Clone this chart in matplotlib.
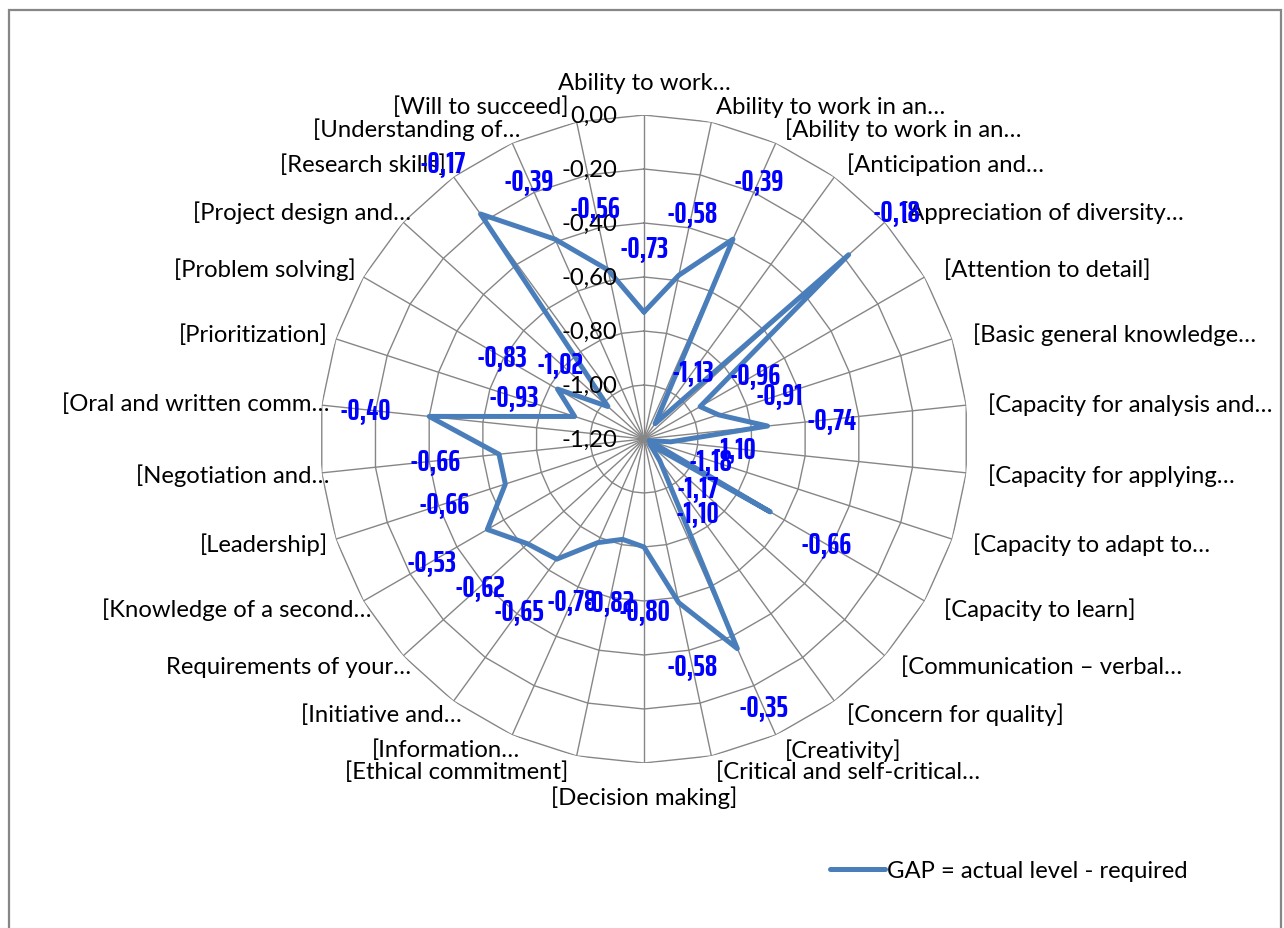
import numpy as np
import matplotlib
matplotlib.use("Agg")
import matplotlib.pyplot as plt
from matplotlib.patches import Rectangle

categories = [
    "Ability to work…",
    "Ability to work in an…",
    "[Ability to work in an…",
    "[Anticipation and…",
    "[Appreciation of diversity…",
    "[Attention to detail]",
    "[Basic general knowledge…",
    "[Capacity for analysis and…",
    "[Capacity for applying…",
    "[Capacity to adapt to…",
    "[Capacity to learn]",
    "[Communication – verbal…",
    "[Concern for quality]",
    "[Creativity]",
    "[Critical and self-critical…",
    "[Decision making]",
    "[Ethical commitment]",
    "[Information…",
    "[Initiative and…",
    "Requirements of your…",
    "[Knowledge of a second…",
    "[Leadership]",
    "[Negotiation and…",
    "[Oral and written comm…",
    "[Prioritization]",
    "[Problem solving]",
    "[Project design and…",
    "[Research skills]",
    "[Understanding of…",
    "[Will to succeed]",
]
gap_values = [-0.73, -0.58, -0.39, -1.13, -0.18, -0.96, -0.91, -0.74, -1.10, -1.18,
              -0.66, -1.17, -1.10, -0.35, -0.58, -0.80, -0.82, -0.78, -0.65, -0.62,
              -0.53, -0.66, -0.66, -0.40, -0.93, -0.83, -1.02, -0.17, -0.39, -0.56]
radial_ticks = [-1.20, -1.00, -0.80, -0.60, -0.40, -0.20, 0.00]
series_name = "GAP = actual level - required"

plt.rcParams['font.family'] = ['Lato', 'DejaVu Sans']
TEXT_SIZE = 17.2
VALUE_SIZE = 22
VALUE_FONT = ['Saira ExtraCondensed', 'Saira Extra Condensed', 'DejaVu Sans']

W, H = 1284, 929
cx, cy, R = 644, 440, 324
fig = plt.figure(figsize=(W / 100, H / 100), dpi=100)
fig.patch.set_facecolor('white')

# outer chart border
fig.add_artist(Rectangle((9 / W, -0.05), (1281 - 9) / W, (H - 11) / H + 0.05,
                         transform=fig.transFigure, fill=False,
                         edgecolor='#868686', linewidth=1.6))

ax = fig.add_axes([(cx - R) / W, (H - cy - R) / H, 2 * R / W, 2 * R / H],
                  projection='polar')
ax.set_theta_offset(np.pi / 2)
ax.set_theta_direction(-1)
ax.set_ylim(radial_ticks[0], radial_ticks[-1])
ax.grid(False)
ax.spines['polar'].set_visible(False)
ax.set_xticks([])
ax.set_yticks([])
ax.patch.set_alpha(0)

n = len(categories)
theta = np.arange(n) * 2 * np.pi / n
closed_theta = np.append(theta, theta[0])
grid_color = '#868686'

# polygonal rings and spokes
for lv in radial_ticks[1:]:
    ax.plot(closed_theta, [lv] * (n + 1), color=grid_color, lw=1.0, zorder=1)
for t in theta:
    ax.plot([t, t], [radial_ticks[0], radial_ticks[-1]], color=grid_color, lw=1.0, zorder=1)

# data series
vals = np.array(gap_values)
series_line, = ax.plot(closed_theta, np.append(vals, vals[0]), color='#4A7EBB',
                       lw=3.6, zorder=3, solid_joinstyle='round', solid_capstyle='round')


def fmt(v):
    return f"{v:.2f}".replace('.', ',')


# radial axis labels
for lv in radial_ticks:
    ax.annotate(fmt(lv), (0, lv), xytext=(-27, 0), textcoords='offset pixels',
                ha='right', va='center', fontsize=TEXT_SIZE, color='black', zorder=4)

# category labels
for i, (t, lab) in enumerate(zip(theta, categories)):
    phi = np.deg2rad(90 - 360.0 * i / n)
    c, s = np.cos(phi), np.sin(phi)
    if abs(c) < 0.01:
        off = (0, 33 if s > 0 else -34)
        ha = 'center'
    elif c > 0:
        off = (22 * c, 16 * s)
        ha = 'left'
    else:
        off = (8 if lab.endswith('…') else -8, 16 * s)
        ha = 'right'
    ax.annotate(lab, (t, 0), xytext=off, textcoords='offset pixels',
                ha=ha, va='center', fontsize=TEXT_SIZE, color='black',
                annotation_clip=False, zorder=4)

# value labels
for i, (t, v) in enumerate(zip(theta, vals)):
    phi = np.deg2rad(90 - 360.0 * i / n)
    ax.annotate(fmt(v), (t, v), xytext=(64 * np.cos(phi), 64 * np.sin(phi)),
                textcoords='offset pixels', ha='center', va='center',
                fontsize=VALUE_SIZE, fontweight='bold', family=VALUE_FONT,
                color='#0000FF', zorder=5, annotation_clip=False)

fig.legend(handles=[series_line], labels=[series_name], loc='center left',
           bbox_to_anchor=(830 / W, (H - 872) / H), frameon=False, fontsize=TEXT_SIZE,
           handlelength=2.3, handletextpad=0.1, borderpad=0, borderaxespad=0)

fig.savefig('out.png', dpi=100, facecolor='white')
